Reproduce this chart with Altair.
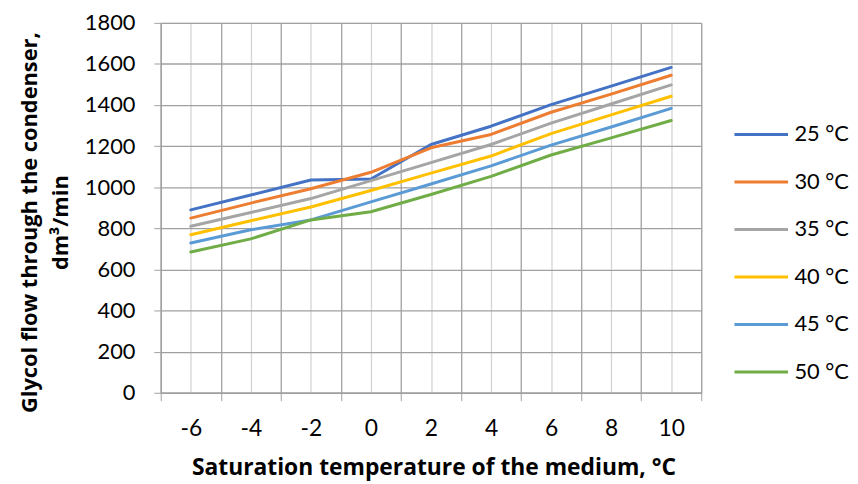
import altair as alt
import pandas as pd

cats = [-6, -4, -2, 0, 2, 4, 6, 8, 10]
series = ["25 °C", "30 °C", "35 °C", "40 °C", "45 °C", "50 °C"]
t25 = [890, 962, 1035, 1040, 1208, 1297, 1402, 1492, 1583]
t30 = [850, 923, 993, 1073, 1192, 1257, 1365, 1453, 1545]
t35 = [810, 877, 945, 1032, 1120, 1208, 1312, 1405, 1498]
t40 = [769, 837, 904, 984, 1069, 1152, 1261, 1352, 1443]
t45 = [729, 793, 841, 929, 1016, 1104, 1205, 1293, 1384]
t50 = [685, 749, 841, 881, 965, 1053, 1157, 1240, 1325]
colors = ["#4472C4", "#ED7D31", "#A5A5A5", "#FFC000", "#5B9BD5", "#70AD47"]
y_ticks = [0, 200, 400, 600, 800, 1000, 1200, 1400, 1600, 1800]

rows = []
for name, vals in zip(series, [t25, t30, t35, t40, t45, t50]):
    for c, v in zip(cats, vals):
        rows.append({"t": c, "flow": v, "series": name})
df = pd.DataFrame(rows)

# category boundaries (major grid) and centers (labels, minor grid)
x_vals = sorted(set([c - 1 for c in cats] + cats + [cats[-1] + 1]))

FONT = "Lato"
TFONT = "Open Sans"

chart = alt.Chart(df).mark_line(strokeWidth=3, strokeCap="round", strokeJoin="round").encode(
    x=alt.X("t:Q",
            scale=alt.Scale(domain=[cats[0] - 1, cats[-1] + 1], nice=False, zero=False),
            axis=alt.Axis(
                values=x_vals,
                title="Saturation temperature of the medium, °C",
                titleFont=TFONT, titleFontSize=23, titleFontWeight="bold", titleColor="#000000",
                titleX=275, titleY=82, titleBaseline="alphabetic", titleAnchor="middle",
                labelFont=FONT, labelFontSize=23, labelColor="#000000",
                labelExpr="datum.value % 2 == 0 ? '' + datum.value : ''",
                labelBaseline="alphabetic", labelPadding=35, labelFlush=False, labelOverlap=False,
                tickSize=8, tickColor="#A0A0A0",
                tickOpacity={"condition": {"test": "datum.value % 2 == 0", "value": 0}, "value": 1},
                gridColor={"condition": {"test": "datum.value % 2 == 0", "value": "#D4D4D4"}, "value": "#A0A0A0"},
                gridWidth=1.3,
                domainColor="#A0A0A0", domainWidth=1.3,
            )),
    y=alt.Y("flow:Q",
            scale=alt.Scale(domain=[0, 1800], nice=False),
            axis=alt.Axis(
                values=y_ticks, format="d",
                title=["Glycol flow through the condenser,", "dm³/min"],
                titleFont=TFONT, titleFontSize=22, titleFontWeight="bold", titleColor="#000000",
                titleAngle=270, titleX=-132, titleY=201, titleAlign="center", titleBaseline="middle",
                titleLineHeight=31,
                labelFont=FONT, labelFontSize=22, labelColor="#000000", labelPadding=19,
                tickSize=7, tickColor="#A0A0A0",
                gridColor="#A0A0A0", gridWidth=1.3,
                domainColor="#A0A0A0", domainWidth=1.3,
            )),
    color=alt.Color("series:N",
                    scale=alt.Scale(domain=series, range=colors),
                    legend=alt.Legend(
                        title=None, orient="none", legendX=577, legendY=84,
                        symbolType="stroke", symbolSize=2916, symbolStrokeWidth=3,
                        labelFont=FONT, labelFontSize=22, labelColor="#000000", labelOffset=5,
                        rowPadding=7.9,
                    )),
).properties(
    width=545, height=373,
    autosize=alt.AutoSizeParams(type="none"),
    padding={"left": 154, "top": 13, "right": 150, "bottom": 88},
).configure_view(stroke=None).configure(background="#ffffff")

chart.save("out.html", embed_options={"renderer": "svg", "actions": False})
